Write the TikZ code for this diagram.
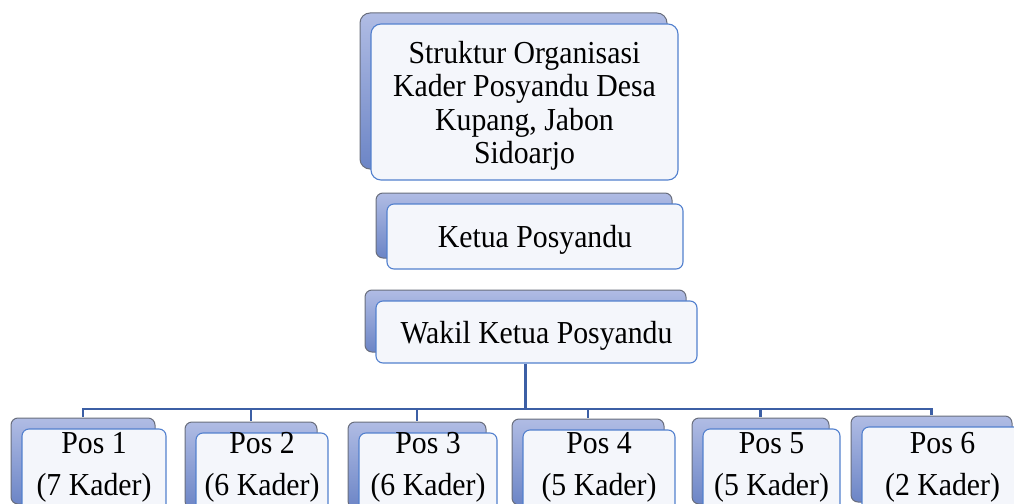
\documentclass[tikz,border=0pt]{standalone}
\usepackage{fontspec}
\setmainfont{Liberation Serif}[FakeStretch=0.93]
\usetikzlibrary{shadows,calc}
\definecolor{backtop}{RGB}{176,188,228}
\definecolor{backbot}{RGB}{108,133,198}
\definecolor{backline}{RGB}{105,110,125}
\definecolor{frontfill}{RGB}{244,246,251}
\definecolor{frontline}{RGB}{82,128,206}
\definecolor{connc}{RGB}{60,95,165}
\begin{document}
\begin{tikzpicture}[x=1pt,y=1pt,
  box/.style={rectangle, rounded corners=7pt, draw=frontline, line width=1.1pt,
    fill=frontfill, inner sep=0pt,
    general shadow={shadow xshift=-11pt, shadow yshift=11pt,
      top color=backtop, bottom color=backbot, draw=backline, line width=1pt}},
  txt/.style={font=\fontsize{32}{33.3}\selectfont, inner sep=0pt},
  conn/.style={draw=connc, line width=2.2pt}]
\useasboundingbox (0,0) rectangle (1014,-503);
\clip (0,0) rectangle (1014,-503);
% top boxes
\node[box, rounded corners=10pt, minimum width=307pt, minimum height=156pt] (t) at (524.5,-102) {};
\node[txt, align=center, anchor=north] (tt) at (t.center |- 0,-41)
  {Struktur Organisasi\\Kader Posyandu Desa\\Kupang, Jabon\\Sidoarjo};
\node[box, txt, text depth=0pt, minimum width=296pt, minimum height=65pt] (k) at (535,-236.5) {Ketua Posyandu};
\node[box, txt, text depth=0pt, minimum width=321pt, minimum height=62pt] (w) at (536.5,-332) {Wakil Ketua Posyandu};
% pos boxes
\node[box, minimum width=144pt, minimum height=86pt] (p1) at (94,-472) {};
\node[box, minimum width=132pt, minimum height=86pt] (p2) at (262,-476) {};
\node[box, minimum width=138pt, minimum height=86pt] (p3) at (428,-476) {};
\node[box, minimum width=152pt, minimum height=86pt] (p4) at (599,-473) {};
\node[box, minimum width=137pt, minimum height=86pt] (p5) at (771.5,-472) {};
\node[box, minimum width=161pt, minimum height=86pt] (p6) at (942.5,-470) {};
% texts in pos boxes
\foreach \p/\n/\c in {p1/1/7, p2/2/6, p3/3/6, p4/4/5, p5/5/5, p6/6/2}{
  \node[txt, anchor=base] (\p a) at (\p.center |- 0,-453) {Pos \n};
  \node[txt, anchor=base] (\p b) at (\p.center |- 0,-495) {(\c\ Kader)};
}
% connectors
\coordinate (bus) at (525.5,-409);
\draw[conn, line width=3pt] ([xshift=-11pt]w.south) -- (bus);
\foreach \p in {p1,p2,p3,p4,p5,p6}
  \draw[conn] (bus) -| ([xshift=-11pt,yshift=11pt]\p.north);
\end{tikzpicture}
\end{document}
